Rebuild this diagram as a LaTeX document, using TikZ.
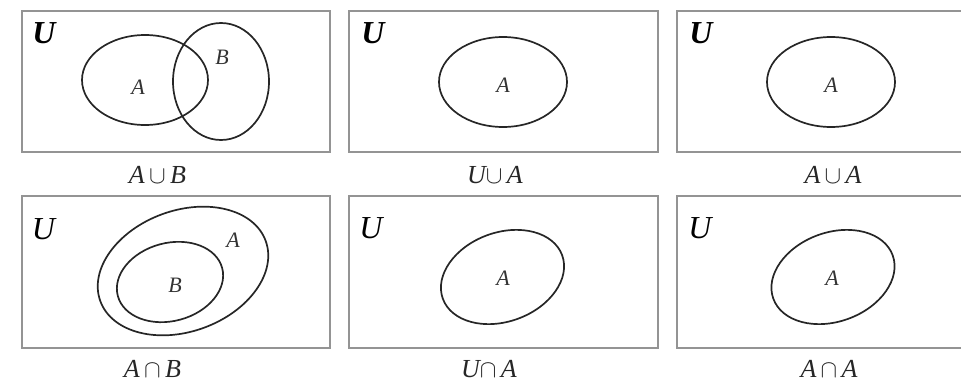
\documentclass[tikz,border=0pt]{standalone}
\usepackage{fontspec}
\setmainfont{Liberation Serif}
\usetikzlibrary{shapes.geometric}
\begin{document}
\begin{tikzpicture}[x=1pt,y=-1pt,
  frame/.style={draw=black!42,line width=1.3pt},
  setcurve/.style={ellipse,draw=black!85,line width=1.7pt,inner sep=0pt},
  ulab/.style={font=\fontsize{32}{34}\selectfont\itshape\bfseries,inner sep=0pt},
  ulabr/.style={font=\fontsize{32}{34}\selectfont\itshape,inner sep=0pt},
  slab/.style={font=\fontsize{22}{24}\selectfont\itshape,inner sep=0pt,text=black!80},
  captext/.style={font=\fontsize{26}{28}\selectfont\itshape,inner sep=0pt,text=black!85}]
\useasboundingbox (0,0) rectangle (961,383);
\clip (0,0) rectangle (961,383);
% frames
\node[frame,minimum width=308pt,minimum height=141pt,inner sep=0pt] (f1) at (176,81.5) {};
\node[frame,minimum width=309pt,minimum height=141pt,inner sep=0pt] (f2) at (503.5,81.5) {};
\node[frame,minimum width=310pt,minimum height=141pt,inner sep=0pt] (f3) at (832,81.5) {};
\node[frame,minimum width=308pt,minimum height=152pt,inner sep=0pt] (f4) at (176,272) {};
\node[frame,minimum width=309pt,minimum height=152pt,inner sep=0pt] (f5) at (503.5,272) {};
\node[frame,minimum width=310pt,minimum height=152pt,inner sep=0pt] (f6) at (832,272) {};
% U labels
\node[ulab] (u1) at (44,33) {U};
\node[ulab] (u2) at (373,33) {U};
\node[ulab] (u3) at (701,33) {U};
\node[ulabr] (u4) at (43.5,229) {U};
\node[ulabr] (u5) at (371,228) {U};
\node[ulabr] (u6) at (700,228) {U};
% panel 1
\node[setcurve,minimum width=126pt,minimum height=90pt] (e1a) at (145,80) {};
\node[setcurve,minimum width=96pt,minimum height=117pt] (e1b) at (221,81.5) {};
\node[slab] (l1a) at (138,87) {A};
\node[slab] (l1b) at (222,57) {B};
% panel 2
\node[setcurve,minimum width=128pt,minimum height=90pt] (e2) at (503,82) {};
\node[slab] (l2) at (503,85) {A};
% panel 3
\node[setcurve,minimum width=128pt,minimum height=90pt] (e3) at (831,82) {};
\node[slab] (l3) at (831,85) {A};
% panel 4
\node[setcurve,minimum width=176pt,minimum height=121pt,rotate=20] (e4a) at (183,271) {};
\node[setcurve,minimum width=108pt,minimum height=78pt,rotate=15] (e4b) at (170,282) {};
\node[slab] (l4a) at (233,240) {A};
\node[slab] (l4b) at (175,285) {B};
% panel 5
\node[setcurve,minimum width=127pt,minimum height=89pt,rotate=20] (e5) at (502.5,277) {};
\node[slab] (l5) at (503,278) {A};
% panel 6
\node[setcurve,minimum width=127pt,minimum height=89pt,rotate=20] (e6) at (833,277) {};
\node[slab] (l6) at (832,278) {A};
% captions
\node[captext] (c1) at (157.5,175) {A\,$\cup$\,B};
\node[captext] (c2) at (495,175) {U$\cup$\,A};
\node[captext] (c3) at (833,175) {A\,$\cup$\,A};
\node[captext] (c4) at (152.5,369) {A\,$\cap$\,B};
\node[captext] (c5) at (489,369) {U$\cap$\,A};
\node[captext] (c6) at (829,369) {A\,$\cap$\,A};
\end{tikzpicture}
\end{document}
